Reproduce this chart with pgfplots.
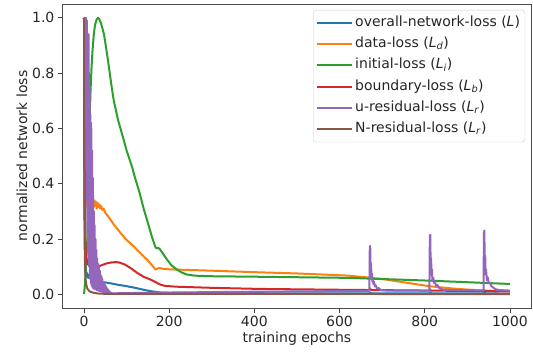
\documentclass[border=0pt]{standalone}
\usepackage{fontspec}
\setmainfont{DejaVu Sans}
\usepackage{pgfplots}
\pgfplotsset{compat=1.18}
\definecolor{c0}{HTML}{1F77B4}
\definecolor{c1}{HTML}{FF7F0E}
\definecolor{c2}{HTML}{2CA02C}
\definecolor{c3}{HTML}{D62728}
\definecolor{c4}{HTML}{9467BD}
\definecolor{c5}{HTML}{8C564B}
\begin{document}
\begin{tikzpicture}[font=\fontsize{14}{16.5}\selectfont]
\useasboundingbox (0,0) rectangle (533pt,354pt);
\begin{axis}[
  at={(62.7pt,46pt)}, anchor=south west,
  width=468.5pt, height=304pt, scale only axis,
  xmin=-50, xmax=1050, ymin=-0.05, ymax=1.05,
  xtick={0,200,400,600,800,1000},
  ytick={0,0.2,0.4,0.6,0.8,1.0},
  xticklabel style={/pgf/number format/.cd,1000 sep={}},
  yticklabel style={/pgf/number format/.cd,fixed,fixed zerofill,precision=1},
  /pgf/number format/assume math mode=true,
  tick align=outside, xtick pos=left, ytick pos=left,
  major tick length=4.8pt,
  tick style={black!75, line width=0.8pt},
  axis line style={black!70, line width=0.8pt},
  ticklabel style={text=black!85},
  xlabel={training epochs}, ylabel={normalized network loss},
  label style={text=black!85},
  xlabel style={yshift=2pt},
  ylabel style={yshift=-2pt},
  legend cell align=left,
  legend style={at={(1,1)}, anchor=north east, xshift=-6pt, yshift=-6pt,
    draw=black!20, rounded corners=3pt, fill=white, fill opacity=0.8, text opacity=1,
    text=black!85,
    nodes={text height=10pt, text depth=3.5pt, inner ysep=3.9pt},
    inner xsep=3pt, inner ysep=2pt},
  legend image code/.code={\draw[#1] (0pt,0pt) -- (30pt,0pt); \path (0pt,0pt) -- (35pt,0pt);},
  every axis plot/.append style={line width=2pt, line join=round},
]
% overall-network-loss
\addplot[c0] coordinates {(0,1.0) (1,0.3) (2,0.12) (3,0.08) (4,0.09) (5,0.07) (6,0.08) (7,0.065) (8,0.075) (9,0.06) (10,0.07) (12,0.058) (14,0.065) (16,0.055) (18,0.06) (20,0.052) (25,0.05) (30,0.048) (40,0.045) (60,0.04) (80,0.034) (100,0.029) (120,0.023) (140,0.016) (156,0.011) (170,0.008) (180,0.006) (200,0.005) (300,0.004) (500,0.003) (670,0.003) (672,0.006) (675,0.003) (812,0.003) (813,0.006) (816,0.003) (939,0.003) (940,0.006) (943,0.003) (1000,0.002)};
\addlegendentry{overall-network-loss (\textit{L})}
% data-loss
\addplot[c1] coordinates {(0,1.0) (2,0.45) (5,0.33) (10,0.3) (15,0.32) (18,0.3) (20,0.33) (22,0.31) (24,0.34) (26,0.32) (28,0.335) (30,0.31) (32,0.33) (34,0.315) (36,0.325) (38,0.31) (40,0.32) (43,0.305) (46,0.31) (50,0.295) (55,0.285) (62,0.27) (70,0.252) (80,0.233) (86,0.221) (100,0.196) (117,0.173) (130,0.152) (148,0.125) (160,0.104) (168,0.089) (172,0.092) (176,0.095) (185,0.092) (200,0.09) (218,0.089) (300,0.085) (413,0.079) (500,0.075) (623,0.067) (700,0.055) (810,0.029) (870,0.02) (935,0.013) (1000,0.011)};
\addlegendentry{data-loss (\textit{L}\textsubscript{\textit{d}})}
% initial-loss
\addplot[c2] coordinates {(0,0) (2,0.03) (4,0.09) (6,0.15) (8,0.2) (10,0.35) (12,0.52) (14,0.67) (16,0.76) (18,0.83) (20,0.88) (23,0.94) (26,0.975) (30,0.995) (33,1.0) (36,0.995) (40,0.98) (44,0.958) (47,0.94) (51,0.9) (55,0.86) (60,0.805) (65,0.75) (70,0.70) (80,0.63) (93,0.56) (100,0.52) (113,0.46) (120,0.42) (130,0.37) (140,0.31) (150,0.258) (160,0.205) (167,0.173) (170,0.166) (175,0.167) (178,0.163) (185,0.148) (195,0.125) (205,0.105) (218,0.089) (230,0.078) (242,0.071) (260,0.067) (296,0.065) (413,0.063) (623,0.059) (810,0.049) (1000,0.037)};
\addlegendentry{initial-loss (\textit{L}\textsubscript{\textit{i}})}
% boundary-loss
\addplot[c3] coordinates {(0,1.0) (1,0.5) (2,0.25) (4,0.15) (8,0.11) (15,0.1) (25,0.098) (35,0.101) (45,0.107) (55,0.112) (65,0.115) (75,0.116) (82,0.115) (95,0.108) (110,0.094) (125,0.077) (140,0.063) (156,0.053) (170,0.042) (179,0.035) (190,0.03) (218,0.027) (300,0.023) (413,0.019) (600,0.016) (670,0.015) (672,0.02) (674,0.015) (810,0.013) (812,0.018) (814,0.013) (937,0.011) (939,0.016) (941,0.011) (1000,0.01)};
\addlegendentry{boundary-loss (\textit{L}\textsubscript{\textit{b}})}
% u-residual-loss
\addplot[c4] coordinates {(0,1.0) (1,1.0) (2,0.95) (3,1.0) (4,0.7) (5,1.0) (6,0.34) (7,0.99) (8,0.22) (9,0.94) (10,0.14) (11,0.94) (12,0.10) (13,0.75) (14,0.06) (15,0.65) (16,0.04) (17,0.62) (18,0.03) (19,0.52) (20,0.025) (21,0.42) (22,0.02) (23,0.3) (24,0.02) (25,0.25) (26,0.018) (27,0.2) (28,0.018) (29,0.16) (30,0.015) (31,0.13) (32,0.015) (33,0.11) (34,0.012) (35,0.1) (36,0.012) (37,0.085) (38,0.01) (39,0.07) (40,0.01) (41,0.065) (42,0.01) (43,0.055) (44,0.008) (45,0.045) (46,0.008) (47,0.04) (48,0.007) (49,0.035) (50,0.007) (52,0.028) (53,0.006) (55,0.02) (56,0.005) (58,0.014) (59,0.005) (61,0.008) (62,0.004) (64,0.005) (66,0.003) (100,0.004) (200,0.006) (400,0.009) (600,0.011)
 (668,0.012) (670,0.012) (671,0.17) (672,0.175) (673,0.09) (674,0.11) (675,0.06) (676,0.075) (677,0.045) (678,0.055) (680,0.035) (681,0.045) (683,0.028) (685,0.032) (688,0.02) (692,0.022) (697,0.015) (710,0.013)
 (800,0.013) (811,0.013) (812,0.21) (813,0.215) (814,0.1) (815,0.13) (816,0.07) (817,0.09) (818,0.05) (820,0.06) (822,0.04) (824,0.045) (827,0.03) (830,0.033) (834,0.022) (840,0.018) (850,0.015)
 (937,0.014) (938,0.014) (939,0.225) (940,0.23) (941,0.11) (942,0.14) (943,0.07) (944,0.09) (946,0.05) (948,0.06) (950,0.04) (953,0.042) (956,0.03) (960,0.025) (966,0.018) (975,0.015) (1000,0.013)};
\addlegendentry{u-residual-loss (\textit{L}\textsubscript{\textit{r}})}
% N-residual-loss
\addplot[c5] coordinates {(0,1.0) (1,0.5) (2,0.2) (3,0.09) (4,0.05) (6,0.03) (8,0.02) (12,0.012) (16,0.008) (23,0.005) (35,0.002) (60,0.001) (1000,0.0005)};
\addlegendentry{N-residual-loss (\textit{L}\textsubscript{\textit{r}})}
\end{axis}
\end{tikzpicture}
\end{document}
